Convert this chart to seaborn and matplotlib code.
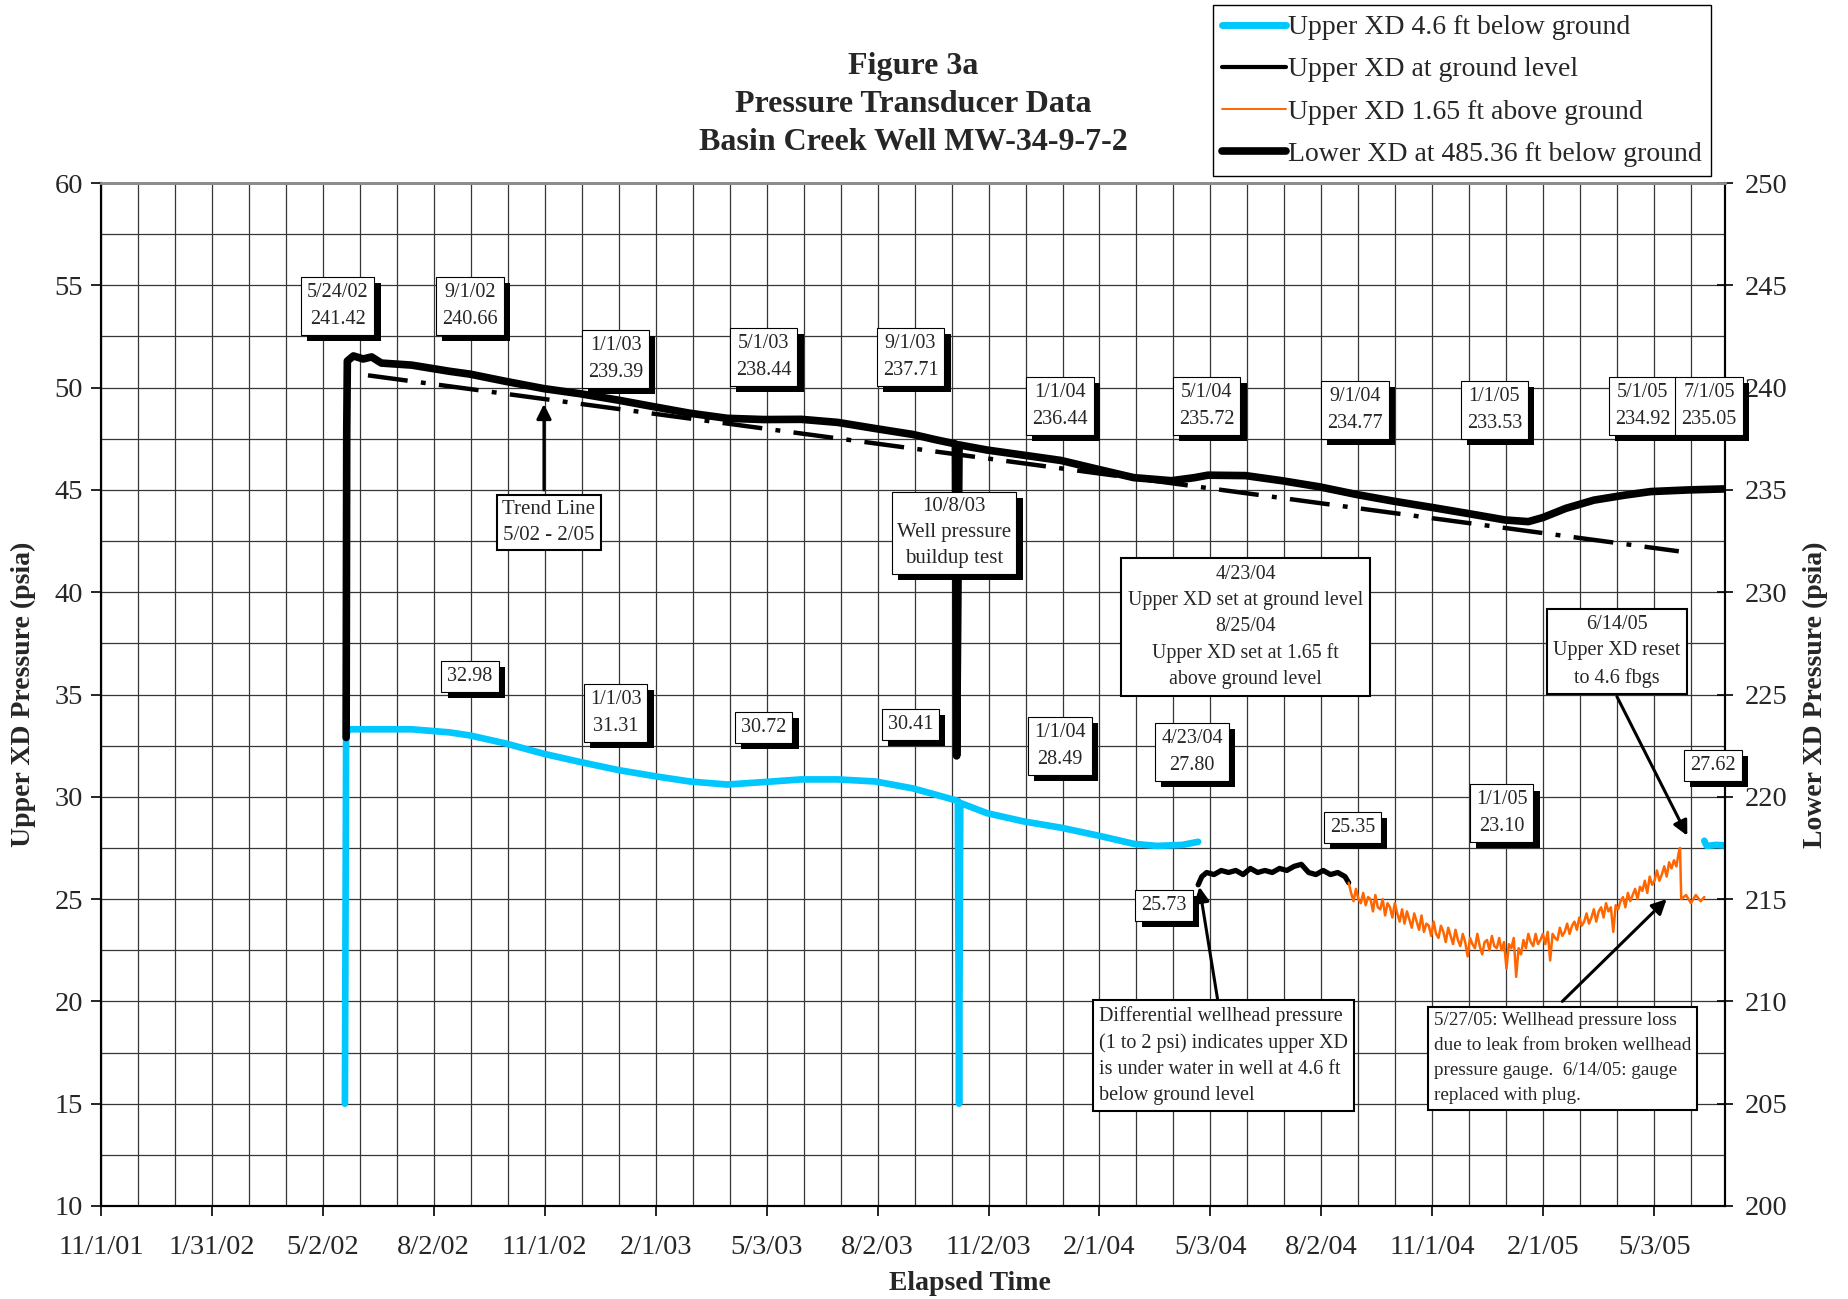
import pandas as pd
import matplotlib
matplotlib.use("Agg")
import matplotlib.pyplot as plt
import matplotlib.dates as mdates
import matplotlib.patheffects as pe
from matplotlib.lines import Line2D
from matplotlib.ticker import FixedLocator, FuncFormatter, MultipleLocator
import seaborn as sns

# ---------------- data ----------------
# Lower XD at 485.36 ft below ground (right axis, psia)
lower_dates = ["2002-05-22", "2002-05-22 12:00", "2002-05-23", "2002-05-28", "2002-06-05", "2002-06-12",
               "2002-06-20", "2002-07-15", "2002-08-15", "2002-09-01", "2002-10-01", "2002-11-01",
               "2002-12-01", "2003-01-01", "2003-02-01", "2003-03-01", "2003-04-01", "2003-05-01",
               "2003-06-01", "2003-07-01", "2003-08-01", "2003-09-01", "2003-09-20", "2003-10-06",
               "2003-10-07", "2003-10-09", "2003-11-01", "2003-12-01", "2004-01-01", "2004-02-01",
               "2004-03-01", "2004-04-01", "2004-04-20", "2004-05-01", "2004-06-01", "2004-07-01",
               "2004-08-01", "2004-09-01", "2004-10-01", "2004-11-01", "2004-12-01", "2005-01-01",
               "2005-01-20", "2005-02-01", "2005-02-20", "2005-03-15", "2005-04-10", "2005-05-01",
               "2005-06-01", "2005-07-01"]
lower_vals = [222.9, 237.8, 241.3, 241.55, 241.4, 241.5,
              241.2, 241.1, 240.8, 240.66, 240.3, 239.95,
              239.7, 239.39, 239.05, 238.75, 238.5, 238.44,
              238.45, 238.3, 238.0, 237.71, 237.45, 237.25,
              222.0, 237.2, 236.95, 236.7, 236.44, 236.0,
              235.6, 235.45, 235.6, 235.72, 235.7, 235.45,
              235.15, 234.77, 234.45, 234.15, 233.85, 233.53,
              233.45, 233.65, 234.1, 234.5, 234.75, 234.92,
              235.0, 235.05]

# Upper XD 4.6 ft below ground (left axis, psia)
cyan_dates = ["2002-05-21", "2002-05-22", "2002-05-24", "2002-06-15", "2002-07-15", "2002-08-15",
              "2002-09-01", "2002-10-01", "2002-11-01", "2002-12-01", "2003-01-01", "2003-02-01",
              "2003-03-01", "2003-04-01", "2003-05-01", "2003-06-01", "2003-07-01", "2003-08-01",
              "2003-09-01", "2003-09-20", "2003-10-08", "2003-10-09", "2003-10-10", "2003-11-01",
              "2003-12-01", "2004-01-01", "2004-02-01", "2004-03-01", "2004-03-20", "2004-04-10",
              "2004-04-23"]
cyan_vals = [15.0, 33.0, 33.3, 33.3, 33.3, 33.15,
             33.0, 32.6, 32.1, 31.7, 31.31, 31.0,
             30.75, 30.6, 30.72, 30.85, 30.85, 30.75,
             30.41, 30.1, 29.8, 15.0, 29.7, 29.2,
             28.8, 28.49, 28.1, 27.7, 27.6, 27.65,
             27.8]
cyan2_dates = ["2005-06-14", "2005-06-16", "2005-06-24", "2005-07-01"]
cyan2_vals = [27.85, 27.6, 27.65, 27.62]

# Upper XD at ground level (left axis)
ground_dates = ["2004-04-23", "2004-04-26", "2004-04-30", "2004-05-06", "2004-05-12", "2004-05-18",
                "2004-05-24", "2004-05-30", "2004-06-05", "2004-06-11", "2004-06-17", "2004-06-23",
                "2004-06-29", "2004-07-05", "2004-07-11", "2004-07-17", "2004-07-23", "2004-07-29",
                "2004-08-04", "2004-08-10", "2004-08-16", "2004-08-22", "2004-08-25"]
ground_vals = [25.7, 26.1, 26.3, 26.2, 26.4, 26.3,
               26.4, 26.2, 26.5, 26.3, 26.4, 26.3,
               26.5, 26.4, 26.6, 26.7, 26.3, 26.2,
               26.4, 26.2, 26.3, 26.1, 25.8]

# Upper XD 1.65 ft above ground (left axis), logged every 2 days from 8/25/04
orange_start = "2004-08-25"
orange_vals = [25.8, 25.3, 24.9, 25.5, 25.0, 24.8, 25.3, 24.7, 25.1, 25.0,
               24.4, 25.2, 24.6, 24.5, 25.0, 24.2, 24.8, 24.6, 24.1, 24.8,
               24.3, 23.9, 24.5, 23.8, 24.4, 24.0, 23.6, 24.3, 23.9, 23.5,
               24.2, 23.4, 23.8, 23.7, 23.2, 23.9, 23.3, 23.1, 23.7, 23.4,
               22.9, 23.6, 23.2, 22.8, 23.5, 23.0, 22.7, 23.3, 22.9, 22.2,
               23.1, 22.8, 22.6, 23.3, 22.7, 22.3, 22.9, 23.0, 22.5, 23.2,
               22.7, 22.6, 23.1, 22.5, 22.9, 21.6, 22.8, 22.6, 23.1, 21.2,
               22.6, 22.3, 23.0, 22.6, 23.3, 22.9, 22.7, 23.3, 22.8, 23.0,
               23.3, 22.8, 23.4, 22.0, 23.3, 23.1, 23.0, 23.6, 23.2, 23.4,
               23.8, 23.3, 23.7, 23.9, 23.5, 24.1, 23.7, 23.9, 24.3, 23.8,
               24.1, 24.5, 23.9, 24.4, 24.6, 24.1, 24.8, 24.4, 24.6, 23.4,
               24.7, 24.5, 24.9, 25.1, 24.6, 25.3, 24.9, 25.2, 25.5, 25.0,
               25.6, 25.4, 25.9, 25.3, 26.1, 25.7, 25.9, 26.4, 25.9, 26.2,
               26.6, 26.1, 26.8, 26.5, 26.9, 26.6, 27.3]
orange_tail_dates = ["2005-05-25", "2005-05-26", "2005-05-30", "2005-06-03", "2005-06-07",
                     "2005-06-11", "2005-06-14"]
orange_tail_vals = [27.5, 25.0, 25.2, 24.8, 25.2, 24.9, 25.1]

# trend line 5/02 - 2/05 (right axis)
trend_dates = ["2002-06-09", "2005-05-24"]
trend_vals = [240.6, 232.0]

legend_labels = ["Upper XD 4.6 ft below ground", "Upper XD at ground level",
                 "Upper XD 1.65 ft above ground", "Lower XD at 485.36 ft below ground"]

CYAN = "#00c8ff"
ORANGE = "#ff6600"
SERIF = ["Liberation Serif", "DejaVu Serif"]


def d(s):
    return mdates.date2num(pd.Timestamp(s))


def to_dt(lst):
    return pd.to_datetime(lst, format="mixed")


def main():
    df_low = pd.DataFrame({"t": to_dt(lower_dates), "p": lower_vals})
    df_cy = pd.DataFrame({"t": to_dt(cyan_dates), "p": cyan_vals})
    df_cy2 = pd.DataFrame({"t": to_dt(cyan2_dates), "p": cyan2_vals})
    df_gr = pd.DataFrame({"t": to_dt(ground_dates), "p": ground_vals})
    t_or = list(pd.date_range(orange_start, periods=len(orange_vals), freq="2D")) + \
        list(to_dt(orange_tail_dates))
    df_or = pd.DataFrame({"t": t_or, "p": orange_vals + orange_tail_vals})
    df_tr = pd.DataFrame({"t": to_dt(trend_dates), "p": trend_vals})

    sns.set_theme(style="white")
    plt.rcParams["font.family"] = SERIF

    fig = plt.figure(figsize=(18.49, 12.99), dpi=100)
    ax = fig.add_axes([0.0546, 0.0716, 0.8783, 0.7875])

    kw = dict(estimator=None, sort=False, ax=ax)
    sns.lineplot(data=df_cy, x="t", y="p", color=CYAN, lw=4.8, **kw)
    sns.lineplot(data=df_cy2, x="t", y="p", color=CYAN, lw=4.8, **kw)
    sns.lineplot(data=df_gr, x="t", y="p", color="black", lw=3.8, **kw)
    sns.lineplot(data=df_or, x="t", y="p", color=ORANGE, lw=1.8, **kw)

    ax2 = ax.twinx()
    kw2 = dict(estimator=None, sort=False, ax=ax2)
    sns.lineplot(data=df_tr, x="t", y="p", color="black", lw=3.2,
                 linestyle=(0, (9, 3, 1.1, 3)), **kw2)
    sns.lineplot(data=df_low, x="t", y="p", color="black", lw=5.5, **kw2)

    # ---- axes / grid ----
    x0 = d("2001-11-01")
    step = 91.41          # major unit in days (as on the original date axis)
    ax.set_xlim(x0, d("2005-07-01"))
    ax.set_ylim(10, 60)
    ax2.set_ylim(200, 250)
    ax.xaxis.set_major_locator(FixedLocator([x0 + k * step for k in range(15)]))
    ax.xaxis.set_minor_locator(FixedLocator([x0 + k * step / 3 for k in range(45)]))

    def fmt(v, pos):
        t = mdates.num2date(v)
        return f"{t.month}/{t.day}/{t.year % 100:02d}"
    ax.xaxis.set_major_formatter(FuncFormatter(fmt))
    ax.yaxis.set_major_locator(MultipleLocator(5))
    ax.yaxis.set_minor_locator(MultipleLocator(2.5))
    ax2.yaxis.set_major_locator(MultipleLocator(5))

    ax.grid(True, which="both", color="#363636", lw=0.9)
    ax.set_axisbelow(True)
    ax.tick_params(axis="x", which="major", length=7, width=1.2, color="black",
                   labelsize=20.5, pad=14, direction="out")
    ax.tick_params(axis="y", which="major", length=7, width=1.2, color="black",
                   labelsize=20.5, pad=6, direction="out")
    ax.tick_params(which="minor", length=0)
    ax2.tick_params(axis="y", which="major", length=12, width=1.2, color="black",
                    labelsize=20.5, pad=8, direction="inout")
    ax.tick_params(left=True, bottom=True)
    ax2.tick_params(right=True)

    for a in (ax, ax2):
        for side in ("left", "bottom", "right"):
            a.spines[side].set_color("black")
            a.spines[side].set_linewidth(1.5)
        a.spines["top"].set_color("#8c8c8c")
        a.spines["top"].set_linewidth(2)

    ax.set_xlabel("Elapsed Time", fontsize=20, fontweight="bold")
    ax.xaxis.set_label_coords(0.535, -0.064)
    ax.set_ylabel("Upper XD Pressure (psia)", fontsize=20, fontweight="bold")
    ax.yaxis.set_label_coords(-0.040, 0.5)
    ax2.set_ylabel("Lower XD Pressure (psia)", fontsize=20, fontweight="bold", rotation=90)
    ax2.yaxis.set_label_coords(1.048, 0.5)

    # ---- title ----
    fig.text(0.494, 0.9195, "Figure 3a\nPressure Transducer Data\nBasin Creek Well MW-34-9-7-2",
             ha="center", va="center", fontsize=23, fontweight="bold", linespacing=1.4)

    # ---- legend ----
    handles = [Line2D([], [], color=CYAN, lw=5),
               Line2D([], [], color="black", lw=3),
               Line2D([], [], color=ORANGE, lw=1.4),
               Line2D([], [], color="black", lw=5.5)]
    leg = fig.legend(handles, legend_labels, loc="upper right", bbox_to_anchor=(0.9254, 0.996),
                     frameon=True, fancybox=False, edgecolor="black", framealpha=1,
                     prop={"family": SERIF, "size": 20}, handlelength=2.3, handletextpad=0.05,
                     labelspacing=0.6, borderpad=0.35, borderaxespad=0)
    leg.get_frame().set_linewidth(1.0)

    # ---- annotation boxes (left-axis coordinates) ----
    shadow = [pe.withSimplePatchShadow(offset=(4.5, -4.5), shadow_rgbFace="black", alpha=1.0)]

    def box(x, y, s, size=14.5, ha="center", ls=1.55, pad=0.3, shadowed=True, lw=0.8):
        t = ax2.text(d(x), y, s, transform=ax.transData, ha="center", va="center",
                     multialignment=ha, fontsize=size, linespacing=ls, zorder=10,
                     bbox=dict(boxstyle=f"square,pad={pad}", fc="white", ec="black", lw=lw))
        if shadowed:
            t.get_bbox_patch().set_path_effects(shadow)
        return t

    def arrow(x1, y1, x2, y2):
        ax2.annotate("", xy=(d(x2), y2), xytext=(d(x1), y1), xycoords=ax.transData,
                     textcoords=ax.transData, zorder=11,
                     arrowprops=dict(arrowstyle="-|>", color="black", lw=2.2,
                                     mutation_scale=22, shrinkA=0, shrinkB=0))

    box("2002-05-15", 54.0, "5/24/02\n241.42")
    box("2002-09-01", 54.0, "9/1/02\n240.66")
    box("2002-12-30", 51.4, "1/1/03\n239.39")
    box("2003-05-01", 51.5, "5/1/03\n238.44")
    box("2003-08-30", 51.5, "9/1/03\n237.71")
    box("2003-12-31", 49.1, "1/1/04\n236.44")
    box("2004-04-30", 49.1, "5/1/04\n235.72")
    box("2004-08-30", 48.9, "9/1/04\n234.77")
    box("2004-12-23", 48.9, "1/1/05\n233.53")
    box("2005-04-24", 49.1, "5/1/05\n234.92")
    box("2005-06-18", 49.1, "7/1/05\n235.05")

    box("2002-09-01", 35.9, "32.98")
    box("2002-12-30", 34.1, "1/1/03\n31.31")
    box("2003-05-01", 33.4, "30.72")
    box("2003-08-30", 33.55, "30.41")
    box("2003-12-31", 32.5, "1/1/04\n28.49")
    box("2004-04-18", 32.2, "4/23/04\n27.80")
    box("2004-03-26", 24.7, "25.73")
    box("2004-08-28", 28.5, "25.35")
    box("2004-12-29", 29.2, "1/1/05\n23.10")
    box("2005-06-21", 31.55, "27.62")

    box("2002-11-05", 43.4, "Trend Line\n5/02 - 2/05", size=15, shadowed=False, lw=1.5,
        pad=0.25, ls=1.5)
    arrow("2002-11-01", 45.0, "2002-11-01", 49.2)
    box("2003-10-05", 42.9, "10/8/03\nWell pressure\nbuildup test", size=15, pad=0.25, ls=1.5)
    box("2004-06-01", 38.3, "4/23/04\nUpper XD set at ground level\n8/25/04\n"
        "Upper XD set at 1.65 ft\nabove ground level", size=14.3, shadowed=False, lw=1.5,
        pad=0.35, ls=1.5)
    box("2005-04-03", 37.1, "6/14/05\nUpper XD reset\nto 4.6 fbgs", size=14.5, shadowed=False,
        lw=1.5, pad=0.3, ls=1.55)
    arrow("2005-04-03", 34.9, "2005-05-31", 28.1)
    box("2004-05-14", 17.35, "Differential wellhead pressure\n(1 to 2 psi) indicates upper XD\n"
        "is under water in well at 4.6 ft\nbelow ground level", size=14.5, ha="left",
        shadowed=False, lw=1.5, pad=0.3, ls=1.5)
    arrow("2004-05-09", 20.1, "2004-04-24", 25.6)
    box("2005-02-17", 17.23, "5/27/05: Wellhead pressure loss\ndue to leak from broken wellhead\n"
        "pressure gauge.  6/14/05: gauge\nreplaced with plug.", size=13.8, ha="left",
        shadowed=False, lw=1.5, pad=0.3, ls=1.6)
    arrow("2005-02-17", 20.0, "2005-05-14", 25.0)

    fig.savefig("out.png", dpi=100)


if __name__ == "__main__":
    main()
